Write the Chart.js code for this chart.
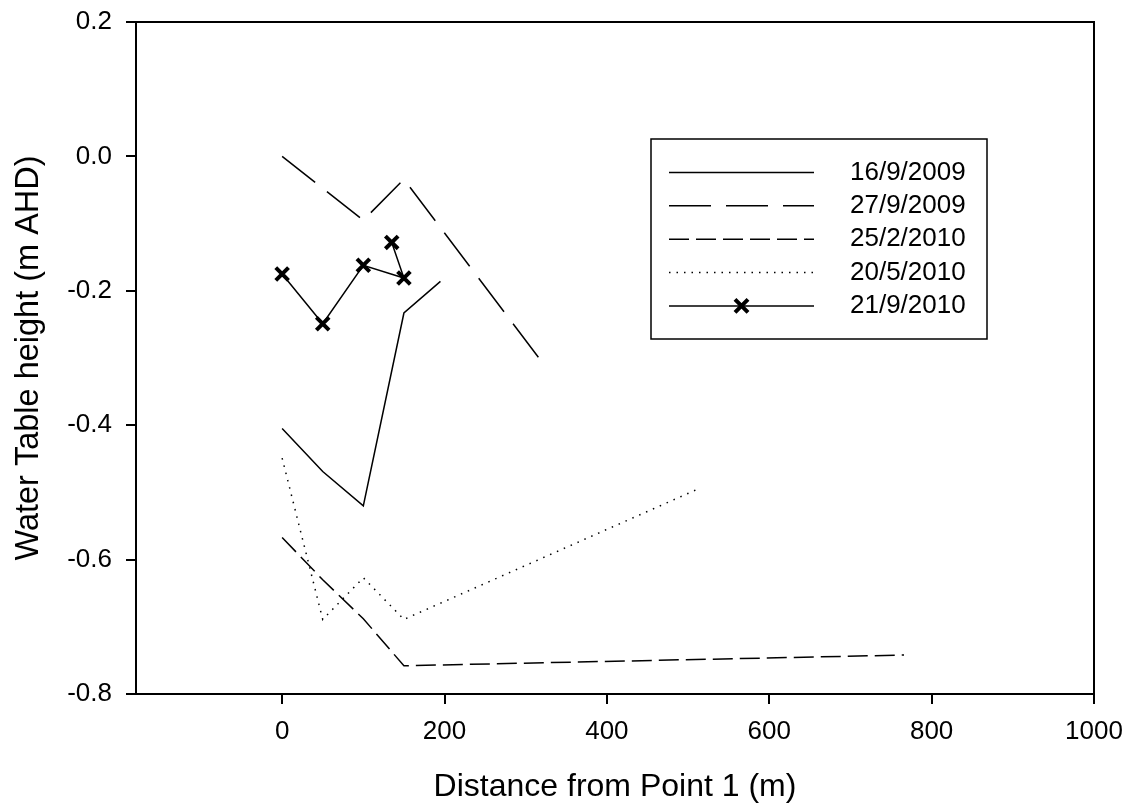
<!DOCTYPE html>
<html>
<head>
<meta charset="utf-8">
<title>Water table profiles</title>
<script src="https://cdn.jsdelivr.net/npm/chart.js@4/dist/chart.umd.min.js"></script>
<style>
  html, body { margin: 0; padding: 0; background: #fff; }
  #wrap { width: 1133px; height: 808px; position: relative; }
</style>
</head>
<body>
<div id="wrap"><canvas id="profileChart"></canvas></div>
<script>
// Survey dates (series names)
const seriesLabels = ['16/9/2009', '27/9/2009', '25/2/2010', '20/5/2010', '21/9/2010'];

// Distance from Point 1 (m) and water table height (m AHD) for each survey
const dist16Sep2009 = [0, 50, 100, 150, 195];
const wt16Sep2009 = [-0.405, -0.469, -0.520, -0.233, -0.186];

const dist27Sep2009 = [0, 100, 150, 322];
const wt27Sep2009 = [0.0, -0.095, -0.034, -0.309];

const dist25Feb2010 = [0, 50, 100, 150, 766];
const wt25Feb2010 = [-0.567, -0.630, -0.688, -0.758, -0.742];

const dist20May2010 = [0, 50, 100, 150, 514];
const wt20May2010 = [-0.449, -0.689, -0.627, -0.689, -0.494];

const dist21Sep2010 = [0, 50, 100, 150, 135];
const wt21Sep2010 = [-0.175, -0.249, -0.162, -0.181, -0.128];

// Axis ticks
const xTickValues = [0, 200, 400, 600, 800, 1000];
const xTickLabels = ['0', '200', '400', '600', '800', '1000'];
const yTickValues = [-0.8, -0.6, -0.4, -0.2, 0.0, 0.2];
const yTickLabels = ['-0.8', '-0.6', '-0.4', '-0.2', '0.0', '0.2'];

function toPoints(xs, ys) {
    return xs.map((x, i) => ({ x: x, y: ys[i] }));
}

Chart.defaults.font.family = "'Liberation Sans', Arial, sans-serif";
Chart.defaults.color = '#000';

const lineStyle = {
    borderColor: '#000',
    backgroundColor: '#000',
    borderWidth: 1.5,
    pointRadius: 0,
    tension: 0,
    fill: false
};

// fixed axis box sizes; edge labels must not push the plot area in
function fixedWidth(w) {
    return function (scale) {
        scale.width = w;
        scale.paddingTop = scale.paddingBottom = 0;
        scale.paddingLeft = scale.paddingRight = 0;
    };
}
function fixedHeight(h) {
    return function (scale) {
        scale.height = h;
        scale.paddingTop = scale.paddingBottom = 0;
        scale.paddingLeft = scale.paddingRight = 0;
    };
}

// Box around the plot area
const framePlugin = {
    id: 'frame',
    afterDatasetsDraw(chart) {
        const { ctx, chartArea: a } = chart;
        ctx.save();
        ctx.strokeStyle = '#000';
        ctx.lineWidth = 2;
        ctx.strokeRect(a.left, a.top, a.right - a.left, a.bottom - a.top);
        ctx.restore();
    }
};

function drawCross(ctx, x, y, r) {
    ctx.beginPath();
    ctx.moveTo(x - r, y - r);
    ctx.lineTo(x + r, y + r);
    ctx.moveTo(x - r, y + r);
    ctx.lineTo(x + r, y - r);
    ctx.stroke();
}

// Legend box with line samples, drawn inside the plot
const boxLegendPlugin = {
    id: 'boxLegend',
    afterDraw(chart) {
        const { ctx, chartArea: a } = chart;
        const left = a.left + 515;
        const top = a.top + 117;
        const w = 336, h = 200;
        ctx.save();
        ctx.fillStyle = '#fff';
        ctx.fillRect(left, top, w, h);
        ctx.strokeStyle = '#000';
        ctx.lineWidth = 1.5;
        ctx.strokeRect(left, top, w, h);

        ctx.font = "26px 'Liberation Sans', Arial, sans-serif";
        ctx.textBaseline = 'middle';
        ctx.textAlign = 'left';
        chart.data.datasets.forEach((ds, i) => {
            const y = top + 33.5 + i * 33.35;
            const x0 = left + 18, x1 = left + 163;
            ctx.strokeStyle = '#000';
            ctx.lineWidth = ds.borderWidth;
            ctx.setLineDash(ds.borderDash || []);
            ctx.beginPath();
            ctx.moveTo(x0, y);
            ctx.lineTo(x1, y);
            ctx.stroke();
            ctx.setLineDash([]);
            if (ds.pointStyle === 'crossRot') {
                ctx.lineWidth = ds.pointBorderWidth;
                drawCross(ctx, (x0 + x1) / 2, y, 6.5);
            }
            ctx.fillStyle = '#000';
            ctx.fillText(ds.label, left + 199, y);
        });
        ctx.restore();
    }
};

new Chart(document.getElementById('profileChart'), {
    type: 'scatter',
    data: {
        datasets: [
            Object.assign({}, lineStyle, {
                label: seriesLabels[0],
                data: toPoints(dist16Sep2009, wt16Sep2009),
                showLine: true
            }),
            Object.assign({}, lineStyle, {
                label: seriesLabels[1],
                data: toPoints(dist27Sep2009, wt27Sep2009),
                showLine: true,
                borderDash: [42, 15]
            }),
            Object.assign({}, lineStyle, {
                label: seriesLabels[2],
                data: toPoints(dist25Feb2010, wt25Feb2010),
                showLine: true,
                borderDash: [20, 7]
            }),
            Object.assign({}, lineStyle, {
                label: seriesLabels[3],
                data: toPoints(dist20May2010, wt20May2010),
                showLine: true,
                borderDash: [1.5, 6]
            }),
            Object.assign({}, lineStyle, {
                label: seriesLabels[4],
                data: toPoints(dist21Sep2010, wt21Sep2010),
                showLine: true,
                pointStyle: 'crossRot',
                pointRadius: 9,
                pointBorderWidth: 4,
                pointBorderColor: '#000'
            })
        ]
    },
    options: {
        responsive: true,
        maintainAspectRatio: false,
        animation: false,
        layout: { padding: { left: 0, top: 22, right: 39, bottom: 0 } },
        plugins: {
            legend: { display: false },
            tooltip: { enabled: false }
        },
        scales: {
            x: {
                type: 'linear',
                min: -180,
                max: 1000,
                afterFit: fixedHeight(114),
                afterBuildTicks(scale) {
                    scale.ticks = xTickValues.map(v => ({ value: v }));
                },
                border: { display: false },
                grid: {
                    drawOnChartArea: false,
                    drawTicks: true,
                    tickLength: 10,
                    color: '#000',
                    lineWidth: 2
                },
                ticks: {
                    padding: 12,
                    font: { size: 26 },
                    color: '#000',
                    callback: (v, i) => xTickLabels[i]
                },
                title: {
                    display: true,
                    text: 'Distance from Point 1 (m)',
                    font: { size: 32 },
                    color: '#000',
                    padding: { top: 0, bottom: 2 }
                }
            },
            y: {
                type: 'linear',
                min: -0.8,
                max: 0.2,
                afterFit: fixedWidth(136),
                afterBuildTicks(scale) {
                    scale.ticks = yTickValues.map(v => ({ value: v }));
                },
                border: { display: false },
                grid: {
                    drawOnChartArea: false,
                    drawTicks: true,
                    tickLength: 10,
                    color: '#000',
                    lineWidth: 2
                },
                ticks: {
                    padding: 14,
                    font: { size: 26 },
                    color: '#000',
                    callback: (v, i) => yTickLabels[i]
                },
                title: {
                    display: true,
                    text: 'Water Table height (m AHD)',
                    font: { size: 32.5 },
                    color: '#000',
                    padding: { top: 10, bottom: 0 }
                }
            }
        }
    },
    plugins: [framePlugin, boxLegendPlugin]
});
</script>
</body>
</html>
